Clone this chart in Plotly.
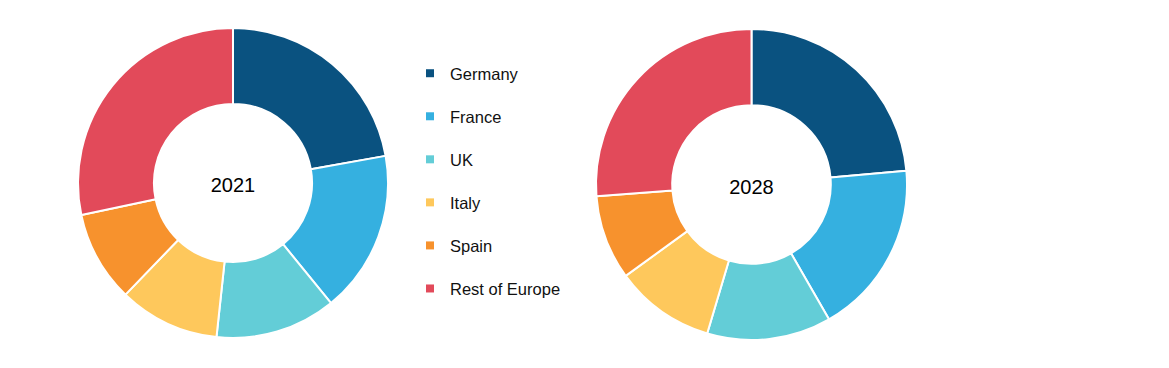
import plotly.graph_objects as go

regions = ["Germany", "France", "UK", "Italy", "Spain", "Rest of Europe"]
share_2021 = [22.2, 16.9, 12.6, 10.5, 9.5, 28.3]
share_2028 = [23.6, 18.1, 12.9, 10.4, 8.8, 26.2]
colors = ["#0A5280", "#35B0E0", "#63CDD7", "#FEC85C", "#F7922D", "#E24A5A"]
years = ["2021", "2028"]

FONT = "Liberation Sans, Arial, sans-serif"
W, H = 1169, 368
OFF = 8  # page body margin


def px_dom(x0, x1, y0, y1):
    return dict(x=[(x0 - OFF) / W, (x1 - OFF) / W],
                y=[1 - (y1 - OFF) / H, 1 - (y0 - OFF) / H])


fig = go.Figure()

domains = [px_dom(78, 388, 28, 338), px_dom(596, 907, 29, 340)]

for vals, yr, dom in zip([share_2021, share_2028], years, domains):
    fig.add_trace(go.Pie(
        labels=regions, values=vals, hole=0.51, sort=False,
        direction="clockwise", rotation=0,
        marker=dict(colors=colors, line=dict(color="white", width=2)),
        textinfo="none", hoverinfo="label+percent",
        domain=dom, showlegend=False,
        title=dict(text=yr, position="middle center",
                   font=dict(family=FONT, size=20, color="#000000")),
    ))

# legend entries
for name, c in zip(regions, colors):
    fig.add_trace(go.Scatter(
        x=[None], y=[None], mode="markers", name=name,
        legendgroup=name,
        marker=dict(symbol="square", size=8, color=c),
    ))

fig.update_layout(
    width=W, height=H,
    margin=dict(l=0, r=0, t=0, b=0),
    paper_bgcolor="white", plot_bgcolor="white",
    xaxis=dict(visible=False), yaxis=dict(visible=False),
    legend=dict(
        x=(410 - OFF) / W, y=1 - (56 - OFF) / H, xanchor="left", yanchor="top",
        traceorder="grouped", tracegroupgap=18.6,
        font=dict(family=FONT, size=16.5, color="#111111"),
        bgcolor="rgba(0,0,0,0)",
    ),
    showlegend=True,
)

fig.write_html("out.html")
